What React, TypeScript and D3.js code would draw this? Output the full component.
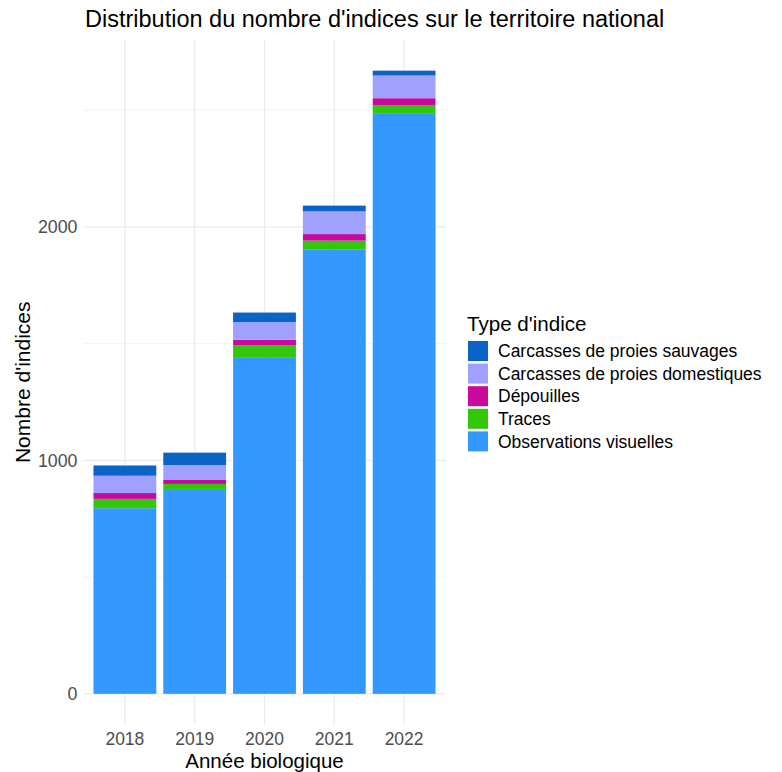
import React from "react";
import * as d3 from "d3";

const years = ["2018", "2019", "2020", "2021", "2022"];
const observationsVisuelles = [795, 877, 1442, 1904, 2487];
const traces = [40, 22, 50, 37, 35];
const depouilles = [25, 17, 24, 28, 29];
const carcassesDomestiques = [74, 64, 76, 97, 97];
const carcassesSauvages = [44, 53, 41, 25, 21];

const seriesNames = [
  "Observations visuelles",
  "Traces",
  "Dépouilles",
  "Carcasses de proies domestiques",
  "Carcasses de proies sauvages",
];
const seriesColors = ["#3399FF", "#33C70A", "#C9099C", "#A0A0FF", "#0A63C7"];
const legendOrder = [4, 3, 2, 1, 0];
const yTicks = [0, 1000, 2000];
const yMinorTicks = [500, 1500, 2500];

const W = 782;
const H = 772;
const panel = { left: 83, right: 446, top: 39.5, bottom: 725 };
const font = "'Liberation Sans', Arial, sans-serif";

export default function App() {
  const seriesValues = [
    observationsVisuelles,
    traces,
    depouilles,
    carcassesDomestiques,
    carcassesSauvages,
  ];
  const rows = years.map((y, i) => {
    const r: Record<string, number | string> = { year: y };
    seriesNames.forEach((n, k) => (r[n] = seriesValues[k][i]));
    return r;
  });
  const stacked = d3.stack<any>().keys(seriesNames)(rows as any);
  const maxTotal = d3.max(stacked[stacked.length - 1], (d) => d[1]) as number;
  const pad = maxTotal * 0.05;

  const x = d3
    .scaleBand<string>()
    .domain(years)
    .range([panel.left, panel.right])
    .paddingInner(0.1)
    .paddingOuter(0.15);
  const y = d3
    .scaleLinear()
    .domain([-pad, maxTotal + pad])
    .range([panel.bottom, panel.top]);

  const fmt = d3.format("d");
  const xCenter = (v: string) => (x(v) as number) + x.bandwidth() / 2;

  return (
    <svg width={W} height={H} style={{ position: "absolute", left: 0, top: 0, background: "#fff" }} fontFamily={font}>
      <rect x={0} y={0} width={W} height={H} fill="#fff" />
      {/* grid */}
      {yMinorTicks.map((t) => (
        <line key={"m" + t} x1={panel.left} x2={panel.right} y1={y(t)} y2={y(t)} stroke="#EBEBEB" strokeWidth={0.6} />
      ))}
      {yTicks.map((t) => (
        <line key={"M" + t} x1={panel.left} x2={panel.right} y1={y(t)} y2={y(t)} stroke="#EBEBEB" strokeWidth={1.2} />
      ))}
      {years.map((v) => (
        <line key={"v" + v} x1={xCenter(v)} x2={xCenter(v)} y1={panel.top} y2={panel.bottom} stroke="#EBEBEB" strokeWidth={1.2} />
      ))}
      {/* bars */}
      {stacked.map((layer, k) => (
        <g key={layer.key} fill={seriesColors[k]}>
          {layer.map((d, i) => (
            <rect
              key={i}
              x={x(years[i])}
              width={x.bandwidth()}
              y={y(d[1])}
              height={y(d[0]) - y(d[1])}
            />
          ))}
        </g>
      ))}
      {/* y tick labels */}
      {yTicks.map((t) => (
        <text key={"yt" + t} x={77.5} y={y(t)} dy="0.35em" textAnchor="end" fontSize={17.8} fill="#4D4D4D">
          {fmt(t)}
        </text>
      ))}
      {/* x tick labels */}
      {years.map((v) => (
        <text key={"xt" + v} x={xCenter(v)} y={745} textAnchor="middle" fontSize={17.5} fill="#4D4D4D">
          {v}
        </text>
      ))}
      {/* axis titles */}
      <text x={(panel.left + panel.right) / 2} y={767.5} textAnchor="middle" fontSize={20.5} fill="#000">
        Année biologique
      </text>
      <text
        transform={`translate(30,${(panel.top + panel.bottom) / 2}) rotate(-90)`}
        textAnchor="middle"
        fontSize={21}
        fill="#000"
      >
        Nombre d'indices
      </text>
      {/* title */}
      <text x={85} y={27} fontSize={23.5} fill="#000">
        Distribution du nombre d'indices sur le territoire national
      </text>
      {/* legend */}
      <text x={467} y={331} fontSize={20.6} fill="#000">
        Type d'indice
      </text>
      {legendOrder.map((k, j) => (
        <g key={"lg" + k} transform={`translate(468,${341 + j * 22.6})`}>
          <rect x={0} y={0} width={20} height={20} fill={seriesColors[k]} />
          <text x={30} y={10} dy="0.36em" fontSize={17.5} fill="#000">
            {seriesNames[k]}
          </text>
        </g>
      ))}
    </svg>
  );
}
